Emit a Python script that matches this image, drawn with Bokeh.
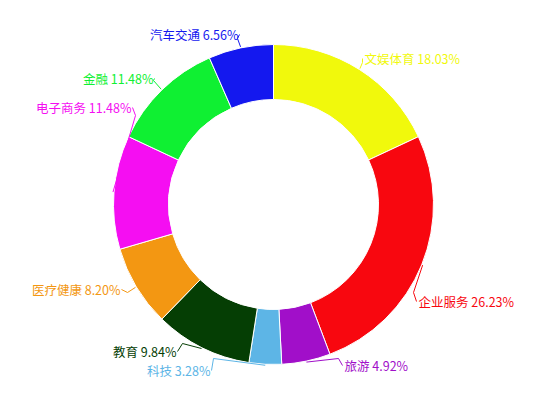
import math
from bokeh.plotting import figure
from bokeh.models import Range1d, ColumnDataSource
from bokeh.embed import file_html
from bokeh.resources import INLINE

# ---- data ----
categories = ["文娱体育", "企业服务", "旅游", "科技", "教育", "医疗健康", "电子商务", "金融", "汽车交通"]
counts = [11, 16, 3, 2, 6, 5, 7, 7, 4]
colors = ["#f1f90c", "#f8070f", "#a10fc9", "#5db5e6", "#053e04", "#f39712", "#f50ef2", "#0ff032", "#1418ef"]

# ---- layout (page pixel coords) ----
W, H = 529, 397
CX, CY = 273, 204
R_OUT, R_IN = 160, 105
# label anchor (page px), alignment, elbow point (page px)
label_layout = [
    ((364, 58), "left", (362, 62)),
    ((418, 301), "left", (413, 292)),
    ((344, 365), "left", (338, 358)),
    ((210, 370), "right", (213, 358)),
    ((176, 351), "right", (182, 343)),
    ((120, 289), "right", (127, 292)),
    ((131, 107), "right", (135, 115)),
    ((153, 78), "right", (153, 80)),
    ((238, 34), "right", (237, 38)),
]

def px(x):
    return x

def py(y):
    return H - y

total = sum(counts)
starts, ends, mids = [], [], []
cum = 0
for c in counts:
    a0 = math.pi / 2 - 2 * math.pi * cum / total
    cum += c
    a1 = math.pi / 2 - 2 * math.pi * cum / total
    starts.append(a0)
    ends.append(a1)
    mids.append((a0 + a1) / 2)

p = figure(width=W, height=H, x_range=Range1d(0, W), y_range=Range1d(0, H),
           output_backend="svg", toolbar_location=None, min_border=0)
p.axis.visible = False
p.grid.visible = False
p.outline_line_color = None
p.background_fill_color = "white"

src = ColumnDataSource(dict(start=starts, end=ends, color=colors))
p.annular_wedge(x=px(CX), y=py(CY), inner_radius=R_IN, outer_radius=R_OUT,
                start_angle="start", end_angle="end", direction="clock",
                fill_color="color", line_color="white", line_width=1, source=src)

for i, cat in enumerate(categories):
    (tx, ty), align, (ex, ey) = label_layout[i]
    ang = mids[i]
    rx = px(CX) + (R_OUT + 1) * math.cos(ang)
    ry = py(CY) + (R_OUT + 1) * math.sin(ang)
    endx = tx - 2 if align == "left" else tx + 1
    p.line([rx, px(ex), px(endx)], [ry, py(ey), py(ty)], line_color=colors[i], line_width=1)
    pct = counts[i] / total * 100
    p.text(x=[px(tx)], y=[py(ty)], text=[f"{cat} {pct:.2f}%"],
           text_align=align, text_baseline="middle",
           text_font_size="12.5px", text_color=colors[i],
           text_font={"value": "Noto Sans CJK SC"})

open("out.html", "w").write(file_html(p, INLINE))
